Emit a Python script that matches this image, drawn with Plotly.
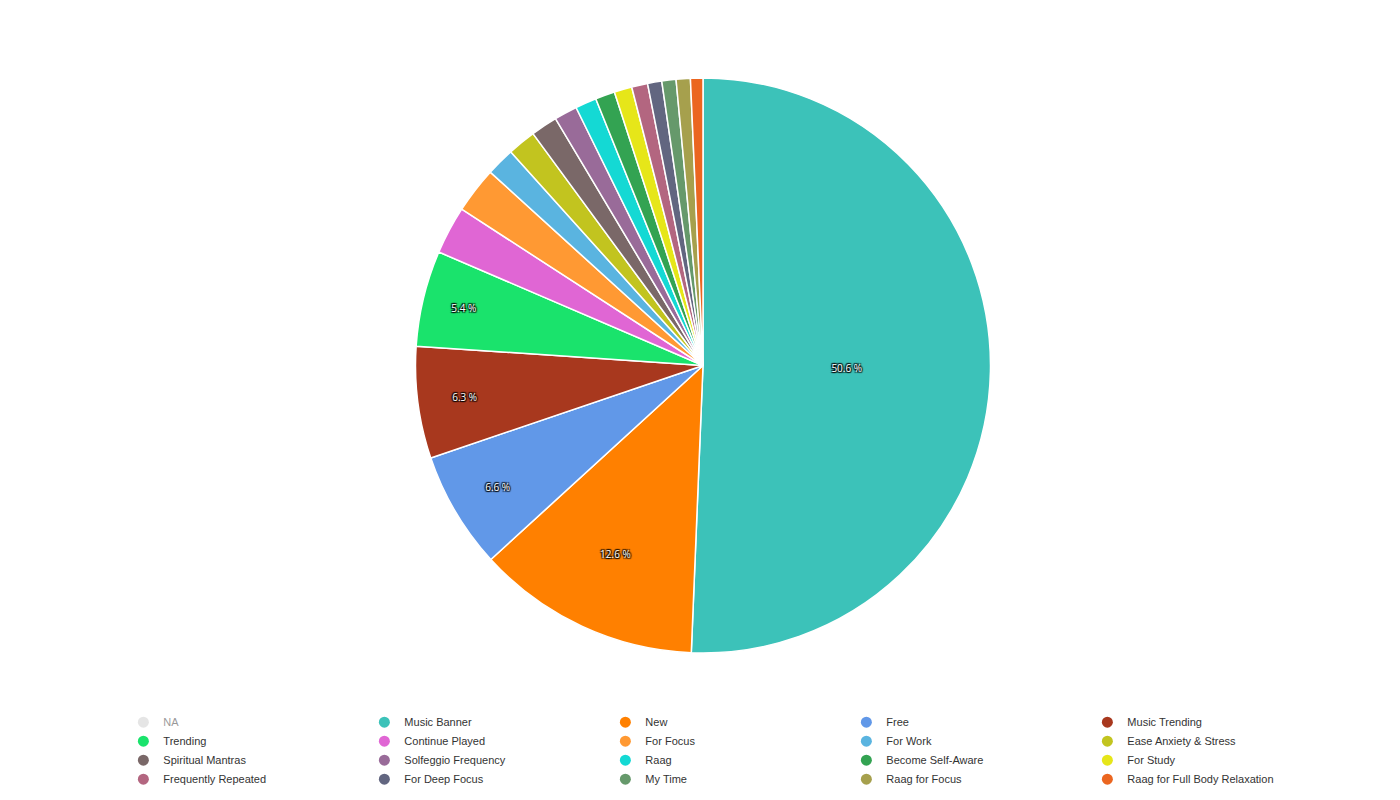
import plotly.graph_objects as go

labels = ["NA", "Music Banner", "New", "Free", "Music Trending", "Trending",
          "Continue Played", "For Focus", "For Work", "Ease Anxiety & Stress",
          "Spiritual Mantras", "Solfeggio Frequency", "Raag", "Become Self-Aware",
          "For Study", "Frequently Repeated", "For Deep Focus", "My Time",
          "Raag for Focus", "Raag for Full Body Relaxation"]
values = [0, 50.8, 12.6, 6.6, 6.3, 5.4, 2.7, 2.6, 1.6, 1.6, 1.5, 1.3, 1.2, 1.1,
          1.0, 0.9, 0.8, 0.8, 0.8, 0.7]
colors = ["#cccccc", "#3cc2b9", "#ff8000", "#6198e8", "#a8381e", "#1ae36c",
          "#e066d4", "#ff9933", "#5ab4e0", "#c2c41f", "#7a6868", "#996b99",
          "#14d9d4", "#33a352", "#e6e619", "#b36680", "#626680", "#66996b",
          "#a6a04d", "#eb6620"]

pie_labels = labels[1:]
pie_values = values[1:]
pie_colors = colors[1:]
total = sum(pie_values)
texts = [f"{v / total * 100:.1f} %" if v / total >= 0.05 else "" for v in pie_values]

fig = go.Figure()
fig.add_trace(go.Pie(
    labels=pie_labels, values=pie_values, sort=False, direction="clockwise",
    rotation=0, text=texts, textinfo="text", textposition="inside",
    insidetextorientation="horizontal",
    marker=dict(colors=pie_colors, line=dict(color="white", width=1.5)),
    textfont=dict(color="white", size=10, family="Open Sans",
                  shadow="1px 1px 1px #000, -1px -1px 1px #000, 1px -1px 1px #000, -1px 1px 1px #000"),
    showlegend=False, hoverinfo="label+percent",
))

# legend entries as circles
for lab, col in zip(labels, colors):
    fig.add_trace(go.Scatter(
        x=[None], y=[None], mode="markers", name=lab,
        marker=dict(color=col, size=11, symbol="circle"),
        visible="legendonly" if lab == "NA" else True,
    ))

fig.update_layout(
    width=1400, height=800,
    margin=dict(l=0, r=10, t=70, b=155),
    paper_bgcolor="white", plot_bgcolor="white",
    xaxis=dict(visible=False), yaxis=dict(visible=False),
    legend=dict(orientation="h", x=0.083, y=-0.095, xanchor="left", yanchor="top",
                entrywidth=196, entrywidthmode="pixels", itemclick=False,
                font=dict(family="Liberation Sans, Arial", size=11, color="#333")),
    font=dict(family="Liberation Sans, Arial"),
)

fig.write_html("out.html")
